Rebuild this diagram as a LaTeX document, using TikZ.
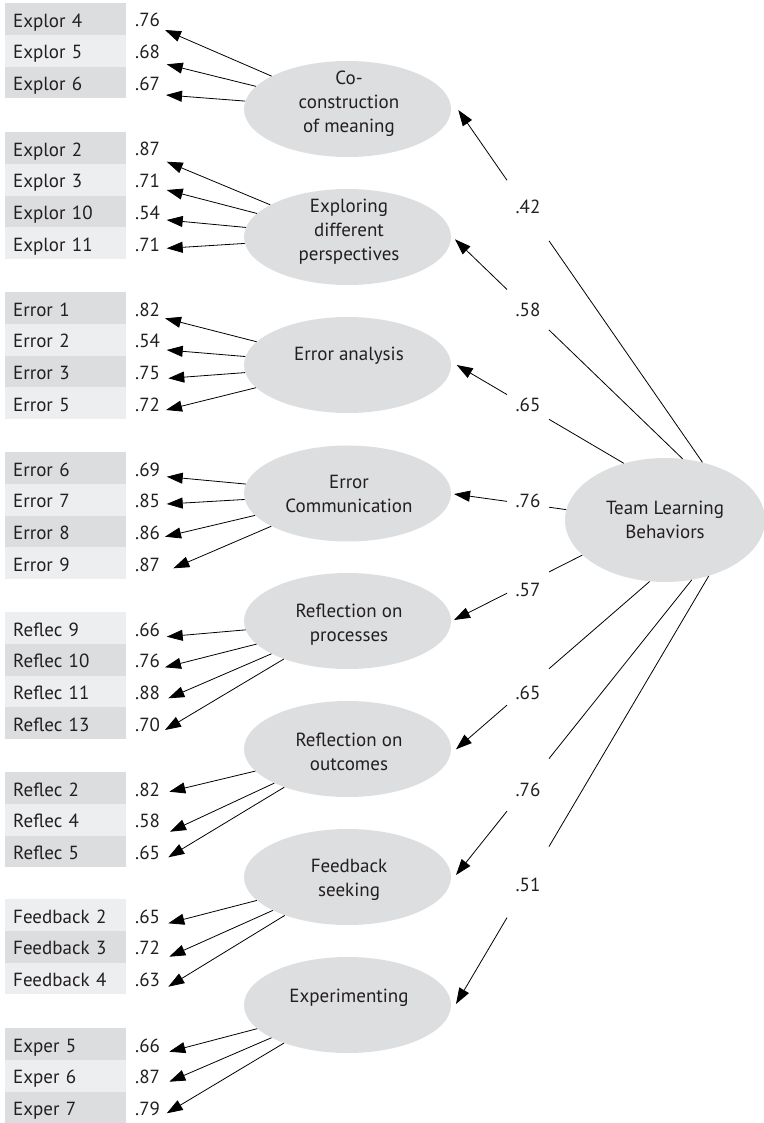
\documentclass[tikz,border=0pt]{standalone}
\usepackage{fontspec}
\setmainfont{PT Sans}
\usetikzlibrary{arrows.meta,shapes.geometric,calc,intersections}
\definecolor{rowdark}{RGB}{220,221,223}
\definecolor{rowlight}{RGB}{237,238,240}
\definecolor{ellfill}{RGB}{221,222,224}
\definecolor{ink}{RGB}{35,31,32}
% shift the glyphs of a label without changing its box
\newcommand{\lift}[2]{\raisebox{#1}[\height][\depth]{#2}}

\begin{document}
\begin{tikzpicture}[x=1pt,y=-1pt,
  font=\fontsize{19}{24}\selectfont, text=ink,
  itembox/.style={anchor=north west, text width=105pt, align=left,
    minimum height=31.75pt, inner xsep=8pt, inner ysep=0pt,
    text height=16pt, text depth=0pt},
  rowA/.style={itembox, fill=rowdark},
  rowB/.style={itembox, fill=rowlight},
  loadnum/.style={anchor=base west, inner sep=0pt},
  factor/.style={ellipse, fill=ellfill, minimum width=207pt, minimum height=96pt, inner sep=0pt},
  ftext/.style={align=center, inner sep=0pt},
  arr/.style={-{Triangle[length=16pt,width=11pt]}, line width=0.8pt, draw=black},
  link/.style={line width=0.8pt, draw=black},
  pathlabel/.style={rectangle, minimum width=41.6pt, minimum height=90pt, inner sep=0pt}
]
\useasboundingbox (0,0) rectangle (763,1123);

% ---------- latent factors ----------
\node[factor] (coco) at (347.5,109) {};
\node[factor] (expl) at (347.5,237) {};
\node[factor] (eana) at (347.5,365) {};
\node[factor] (ecom) at (347.5,493.5) {};
\node[factor] (rpro) at (347.5,621) {};
\node[factor] (rout) at (347.5,749) {};
\node[factor] (fbs)  at (347.5,877) {};
\node[factor] (expe) at (347.5,1005) {};
\node[ftext] (coco-t) at (349,104) {Co-\\construction\\of meaning};
\node[ftext] (expl-t) at (349,232) {Exploring\\different\\perspectives};
\node[ftext] (eana-t) at (349,356) {Error analysis};
\node[ftext] (ecom-t) at (349,494) {Error\\Communication};
\node[ftext] (rpro-t) at (349,624.5) {Reflection on\\processes};
\node[ftext] (rout-t) at (349,752) {Reflection on\\outcomes};
\node[ftext] (fbs-t)  at (349,880) {Feedback\\seeking};
\node[ftext] (expe-t) at (349,998) {Experimenting};

\node[ellipse, fill=ellfill, minimum width=200pt, minimum height=124pt, inner sep=0pt, align=center]
  (tlb) at (665,520) {Team Learning\\Behaviors};

% ---------- observed items ----------
% Co-construction of meaning
\node[rowA] (i-x4) at (5,3) {Explor 4};
\node[rowB] (i-x5) at (5,34.75) {Explor 5};
\node[rowA] (i-x6) at (5,66.5) {Explor 6};
\node[loadnum] (n-x4) at (135,27) {.76};
\node[loadnum] (n-x5) at (135,58.75) {.68};
\node[loadnum] (n-x6) at (135,90.5) {.67};
\coordinate (t-x4) at (165,30);
\coordinate (t-x5) at (166.7,64.3);
\coordinate (t-x6) at (166,95);
\foreach \k in {x4,x5,x6} \draw[arr] (coco) -- (t-\k);

% Exploring different perspectives
\node[rowA] (i-x2) at (5,132) {Explor 2};
\node[rowB] (i-x3) at (5,163.75) {Explor 3};
\node[rowA] (i-x10) at (5,195.5) {Explor 10};
\node[rowB] (i-x11) at (5,227.25) {Explor 11};
\node[loadnum] (n-x2) at (135,156) {.87};
\node[loadnum] (n-x3) at (135,187.75) {.71};
\node[loadnum] (n-x10) at (135,219.5) {.54};
\node[loadnum] (n-x11) at (135,251.25) {.71};
\coordinate (t-x2) at (166.7,161.7);
\coordinate (t-x3) at (166.7,190);
\coordinate (t-x10) at (166.7,220);
\coordinate (t-x11) at (166.7,248.3);
\foreach \k in {x2,x3,x10,x11} \draw[arr] (expl) -- (t-\k);

% Error analysis
\node[rowA] (i-e1) at (5,292) {Error 1};
\node[rowB] (i-e2) at (5,323.75) {Error 2};
\node[rowA] (i-e3) at (5,355.5) {Error 3};
\node[rowB] (i-e5) at (5,387.25) {Error 5};
\node[loadnum] (n-e1) at (135,316) {.82};
\node[loadnum] (n-e2) at (135,347.75) {.54};
\node[loadnum] (n-e3) at (135,379.5) {.75};
\node[loadnum] (n-e5) at (135,411.25) {.72};
\coordinate (t-e1) at (165,318.3);
\coordinate (t-e2) at (166.7,350);
\coordinate (t-e3) at (168.3,378.3);
\coordinate (t-e5) at (166,410);
\foreach \k in {e1,e2,e3,e5} \draw[arr] (eana) -- (t-\k);

% Error communication
\node[rowA] (i-e6) at (5,452) {Error 6};
\node[rowB] (i-e7) at (5,483.75) {Error 7};
\node[rowA] (i-e8) at (5,515.5) {Error 8};
\node[rowB] (i-e9) at (5,547.25) {Error 9};
\node[loadnum] (n-e6) at (135,476) {.69};
\node[loadnum] (n-e7) at (135,507.75) {.85};
\node[loadnum] (n-e8) at (135,539.5) {.86};
\node[loadnum] (n-e9) at (135,571.25) {.87};
\coordinate (t-e6) at (166.7,476.7);
\coordinate (t-e7) at (166.7,504);
\coordinate (t-e8) at (165,536.7);
\coordinate (t-e9) at (173.3,568.3);
\foreach \k in {e6,e7,e8,e9} \draw[arr] (ecom) -- (t-\k);

% Reflection on processes
\node[rowB] (i-r9) at (5,612) {Reflec 9};
\node[rowA] (i-r10) at (5,643.75) {Reflec 10};
\node[rowB] (i-r11) at (5,675.5) {Reflec 11};
\node[rowA] (i-r13) at (5,707.25) {Reflec 13};
\node[loadnum] (n-r9) at (135,636) {.66};
\node[loadnum] (n-r10) at (135,667.75) {.76};
\node[loadnum] (n-r11) at (135,699.5) {.88};
\node[loadnum] (n-r13) at (135,731.25) {.70};
\coordinate (t-r9) at (166.7,636.7);
\coordinate (t-r10) at (165,667.3);
\coordinate (t-r11) at (168.3,698.3);
\coordinate (t-r13) at (165,730);
\foreach \k in {r9,r10,r11,r13} \draw[arr] (rpro) -- (t-\k);

% Reflection on outcomes
\node[rowA] (i-r2) at (5,772) {Reflec 2};
\node[rowB] (i-r4) at (5,803.75) {Reflec 4};
\node[rowA] (i-r5) at (5,835.5) {Reflec 5};
\node[loadnum] (n-r2) at (135,796) {.82};
\node[loadnum] (n-r4) at (135,827.75) {.58};
\node[loadnum] (n-r5) at (135,859.5) {.65};
\coordinate (t-r2) at (169.3,791.7);
\coordinate (t-r4) at (170,831.7);
\coordinate (t-r5) at (168.3,857.3);
\foreach \k in {r2,r4,r5} \draw[arr] (rout) -- (t-\k);

% Feedback seeking
\node[rowB] (i-f2) at (5,899) {Feedback 2};
\node[rowA] (i-f3) at (5,930.75) {Feedback 3};
\node[rowB] (i-f4) at (5,962.5) {Feedback 4};
\node[loadnum] (n-f2) at (135,923) {.65};
\node[loadnum] (n-f3) at (135,954.75) {.72};
\node[loadnum] (n-f4) at (135,986.5) {.63};
\coordinate (t-f2) at (168.3,923.3);
\coordinate (t-f3) at (169.3,956.7);
\coordinate (t-f4) at (168.3,986.7);
\foreach \k in {f2,f3,f4} \draw[arr] (fbs) -- (t-\k);

% Experimenting
\node[rowA] (i-p5) at (5,1028) {Exper 5};
\node[rowB] (i-p6) at (5,1059.75) {Exper 6};
\node[rowA] (i-p7) at (5,1091.5) {Exper 7};
\node[loadnum] (n-p5) at (135,1052) {.66};
\node[loadnum] (n-p6) at (135,1083.75) {.87};
\node[loadnum] (n-p7) at (135,1115.5) {.79};
\coordinate (t-p5) at (169.3,1051.7);
\coordinate (t-p6) at (169.3,1081.7);
\coordinate (t-p7) at (166.7,1113.3);
\foreach \k in {p5,p6,p7} \draw[arr] (expe) -- (t-\k);

% ---------- second-order paths ----------
\coordinate (s-coco) at (458.3,110);
\coordinate (s-expl) at (455,239.3);
\coordinate (s-eana) at (456.7,365);
\coordinate (s-ecom) at (454,494);
\coordinate (s-rpro) at (454,620);
\coordinate (s-rout) at (456,749.3);
\coordinate (s-fbs)  at (456,875);
\coordinate (s-expe) at (456,1004);

% each path is broken where its loading sits, on the column x = 528
\path[name path=loadcol] (528,0) -- (528,1123);
\foreach \f/\a/\v/\dy in {coco/57.1/.42/3.8pt, expl/74/.58/0pt, eana/126.3/.65/2pt,
    ecom/174.8/.76/3pt, rpro/203/.57/-7pt, rout/256.3/.65/-6pt,
    fbs/294.5/.76/-4.5pt, expe/308/.51/-2.5pt}{
  \path[name path=pl] (tlb.\a) -- (s-\f);
  \path[name intersections={of=pl and loadcol, by={c-\f}}];
  \node[pathlabel] (w-\f) at (c-\f) {\lift{\dy}{\v}};
  \draw[link] (tlb.\a) -- (w-\f);
  \draw[arr] (w-\f) -- (s-\f);
}
\end{tikzpicture}
\end{document}
